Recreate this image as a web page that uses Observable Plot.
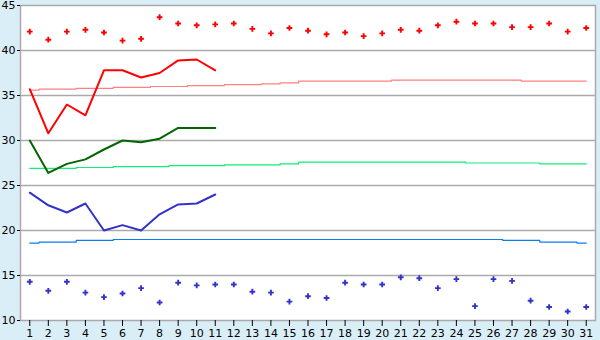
<!DOCTYPE html>
<html><head><meta charset="utf-8">
<script src="https://cdn.jsdelivr.net/npm/d3@7"></script>
<script src="https://cdn.jsdelivr.net/npm/@observablehq/plot@0.6"></script>
<style>body{margin:0;background:#d9eef6} svg{overflow:visible}</style>
</head><body><div id="chart"></div>
<script>
const days = d3.range(1, 32);
const yTicks = [10, 15, 20, 25, 30, 35, 40, 45];
const gridTicks = [15, 20, 25, 30, 35, 40];

// record highs (red markers) and record lows (blue markers)
const recordMax = [42.1,41.2,42.1,42.3,42.0,41.1,41.3,43.7,43.0,42.8,42.9,43.0,42.4,41.9,42.5,
                   42.2,41.8,42.0,41.6,41.9,42.3,42.2,42.8,43.2,43.0,43.0,42.6,42.6,43.0,42.1,42.5];
const recordMin = [14.3,13.3,14.3,13.1,12.6,13.0,13.6,12.0,14.2,13.9,14.0,14.0,13.2,13.1,12.1,
                   12.7,12.5,14.2,14.0,14.0,14.8,14.7,13.6,14.6,11.6,14.6,14.4,12.2,11.5,11.0,11.5];

// observed daily values (days 1-11)
const obsMax  = [35.7,30.8,34.0,32.8,37.8,37.8,37.0,37.5,38.9,39.0,37.8];
const obsMean = [30.0,26.4,27.4,27.9,29.0,30.0,29.8,30.2,31.4,31.4,31.4];
const obsMin  = [24.2,22.8,22.0,23.0,20.0,20.6,20.0,21.8,22.9,23.0,24.0];

// normals
const normMax  = [35.6,35.7,35.7,35.8,35.8,35.9,35.9,36.0,36.0,36.1,36.1,36.2,36.2,36.3,36.4,
                  36.6,36.6,36.6,36.6,36.6,36.7,36.7,36.7,36.7,36.7,36.7,36.7,36.6,36.6,36.6,36.6];
const normMean = [26.9,26.9,26.9,27.0,27.0,27.1,27.1,27.1,27.2,27.2,27.2,27.3,27.3,27.3,27.4,
                  27.6,27.6,27.6,27.6,27.6,27.6,27.6,27.6,27.6,27.5,27.5,27.5,27.5,27.4,27.4,27.4];
const normMin  = [18.6,18.7,18.7,18.9,18.9,19.0,19.0,19.0,19.0,19.0,19.0,19.0,19.0,19.0,19.0,
                  19.0,19.0,19.0,19.0,19.0,19.0,19.0,19.0,19.0,19.0,19.0,18.9,18.9,18.7,18.7,18.6];

const rows = arr => arr.map((v, i) => ({day: days[i], v}));

const chart = Plot.plot({
  width: 600, height: 340,
  marginLeft: 20, marginRight: 5, marginTop: 5, marginBottom: 20,
  style: {background: "#d9eef6", fontFamily: "DejaVu Sans", fontSize: "11px", color: "#000", overflow: "visible"},
  x: {domain: [0.5, 31.5]},
  y: {domain: [10, 45]},
  marks: [
    Plot.frame({fill: "white", stroke: null}),
    Plot.ruleY(gridTicks, {stroke: "#aaaaaa", strokeWidth: 1.5}),
    Plot.line(rows(normMax), {x: "day", y: "v", curve: "step", stroke: "#ff8080", strokeWidth: 1.2}),
    Plot.line(rows(normMean), {x: "day", y: "v", curve: "step", stroke: "#11ee77", strokeWidth: 1.2}),
    Plot.line(rows(normMin), {x: "day", y: "v", curve: "step", stroke: "#0a7ff0", strokeWidth: 1.2}),
    Plot.line(rows(obsMax), {x: "day", y: "v", stroke: "#ff0000", strokeWidth: 2}),
    Plot.line(rows(obsMean), {x: "day", y: "v", stroke: "#006600", strokeWidth: 2}),
    Plot.line(rows(obsMin), {x: "day", y: "v", stroke: "#3333cc", strokeWidth: 2}),
    Plot.dot(rows(recordMax), {x: "day", y: "v", symbol: "cross", r: 2.4, fill: "#ff0000", stroke: null}),
    Plot.dot(rows(recordMin), {x: "day", y: "v", symbol: "cross", r: 2.4, fill: "#3333cc", stroke: null}),
    Plot.frame({stroke: "#aaaaaa", strokeWidth: 1.5}),
    Plot.axisX({ticks: days, tickFormat: d => String(d), tickSize: 6, tickPadding: 3, label: null, stroke: "#000", fill: "#000", fontSize: 11}),
    Plot.axisY({ticks: yTicks, tickSize: 3, tickPadding: 2, label: null, stroke: "#000", fill: "#000", fontSize: 11})
  ]
});
document.getElementById("chart").appendChild(chart);
</script>
</body></html>
